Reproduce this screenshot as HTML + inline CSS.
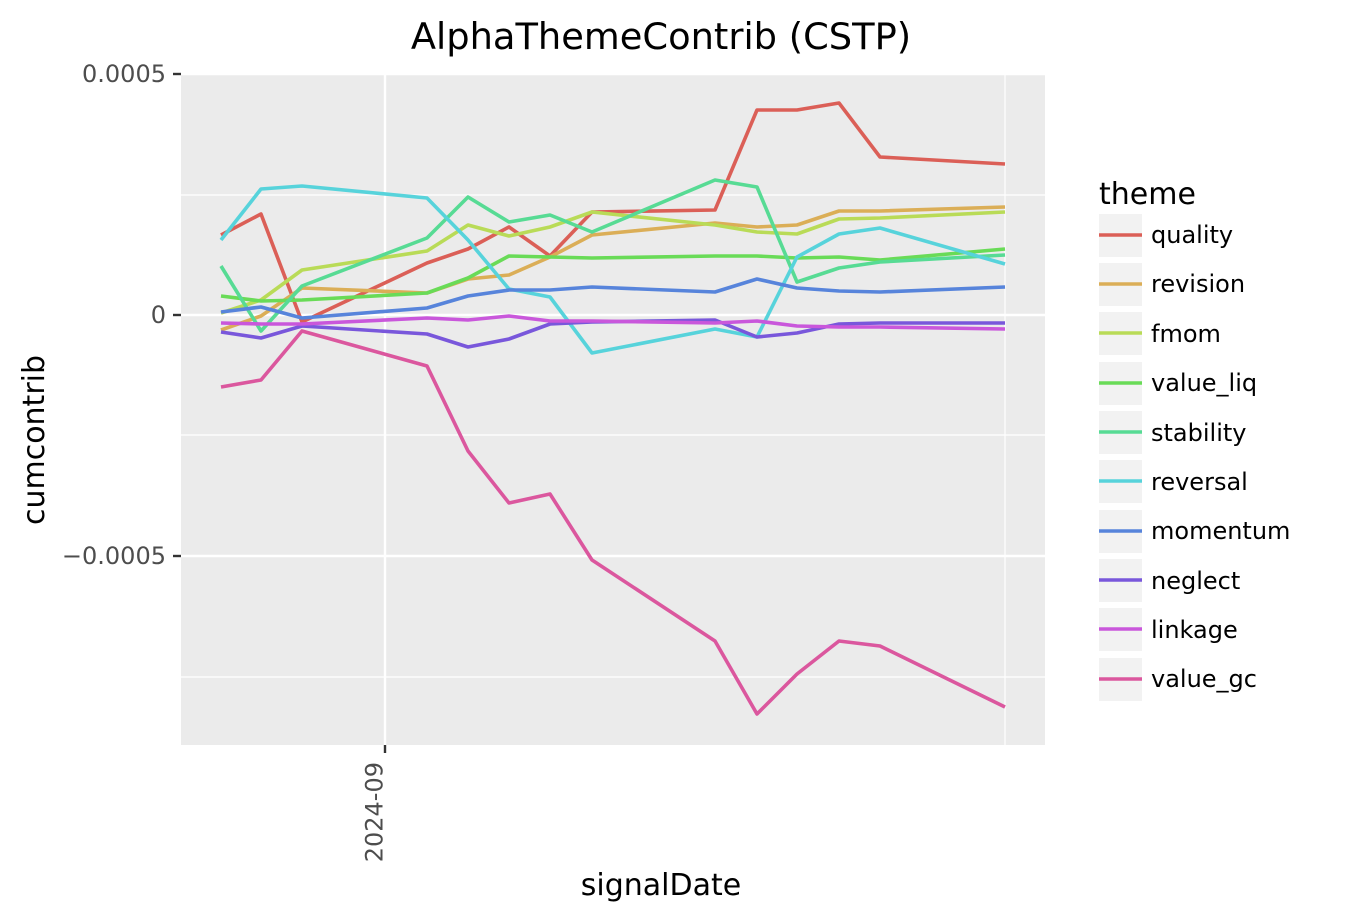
<!DOCTYPE html>
<html><head><meta charset="utf-8"><style>
body{margin:0;background:#fff;}
svg{display:block;font-family:"DejaVu Sans","Liberation Sans",sans-serif;}
</style></head><body>
<svg width="1347" height="922" viewBox="0 0 1347 922" xmlns="http://www.w3.org/2000/svg">
<rect width="1347" height="922" fill="#fff"/>
<text x="661" y="49" font-size="36.8" text-anchor="middle" fill="#000">AlphaThemeContrib (CSTP)</text>
<rect x="181" y="74" width="864" height="671" fill="#ebebeb"/>
<g stroke="#fff">
<line x1="181" x2="1045" y1="195" y2="195" stroke-width="1.2"/>
<line x1="181" x2="1045" y1="435" y2="435" stroke-width="1.2"/>
<line x1="181" x2="1045" y1="677" y2="677" stroke-width="1.2"/>
<line x1="181" x2="1045" y1="74" y2="74" stroke-width="2.4"/>
<line x1="181" x2="1045" y1="315" y2="315" stroke-width="2.4"/>
<line x1="181" x2="1045" y1="556" y2="556" stroke-width="2.4"/>
<line x1="385" x2="385" y1="74" y2="745" stroke-width="2.4"/>
<line x1="1005" x2="1005" y1="74" y2="745" stroke-width="1.2"/>
</g>
<g fill="none" stroke-width="3.6" stroke-linejoin="round">
<polyline stroke="#db5f57" points="221,235 261,214 302,322 427,263 468,249 509,227 550,256 592,212 715,210 757,110 797,110 839,103 880,157 1005,164"/>
<polyline stroke="#dbae57" points="221,330 261,316 302,288 427,293 468,279 509,275 550,257 592,235 715,223 757,227 797,225 839,211 880,211 1005,207"/>
<polyline stroke="#b9db57" points="221,313 261,300 302,270 427,251 468,225 509,236 550,227 592,212 715,225 757,232 797,234 839,219 880,218 1005,212"/>
<polyline stroke="#69db57" points="221,296 261,301 302,300 427,293 468,278 509,256 550,257 592,258 715,256 757,256 797,258 839,257 880,260 1005,249"/>
<polyline stroke="#57db94" points="221,266 261,331 302,286 427,238 468,197 509,222 550,215 592,232 715,180 757,187 797,282 839,268 880,262 1005,255"/>
<polyline stroke="#57d3db" points="221,240 261,189 302,186 427,198 468,240 509,289 550,297 592,353 715,329 757,337 797,257 839,234 880,228 1005,264"/>
<polyline stroke="#5784db" points="221,312 261,307 302,318 427,308 468,296 509,290 550,290 592,287 715,292 757,279 797,288 839,291 880,292 1005,287"/>
<polyline stroke="#7957db" points="221,332 261,338 302,326 427,334 468,347 509,339 550,324 592,322 715,320 757,337 797,333 839,324 880,323 1005,323"/>
<polyline stroke="#c957db" points="221,323 261,324 302,324 427,318 468,320 509,316 550,321 592,321 715,323 757,321 797,326 839,327 880,327 1005,329"/>
<polyline stroke="#db579e" points="221,387 261,380 302,331 427,366 468,451 509,503 550,494 592,560 715,641 757,714 797,674 839,641 880,646 1005,707"/>
</g>
<g stroke="#333" stroke-width="2.4">
<line x1="173" x2="181" y1="74" y2="74"/><line x1="173" x2="181" y1="315" y2="315"/><line x1="173" x2="181" y1="556" y2="556"/>
<line x1="385" x2="385" y1="745" y2="753"/>
</g>
<g font-size="24" fill="#4d4d4d" text-anchor="end">
<text x="166" y="82">0.0005</text>
<text x="166" y="323">0</text>
<text x="166" y="564">−0.0005</text>
<text transform="translate(374,762) rotate(-90)" x="0" y="0" dy="0.35em">2024-09</text>
</g>
<text x="661" y="895" font-size="30" text-anchor="middle">signalDate</text>
<text transform="translate(44,440) rotate(-90)" font-size="30" text-anchor="middle">cumcontrib</text>
<text x="1099" y="204" font-size="30">theme</text>
<g font-size="24">
<rect x="1099" y="214" width="43" height="43" fill="#f2f2f2"/><line x1="1099" x2="1142" y1="235" y2="235" stroke="#db5f57" stroke-width="3.6"/><text x="1151" y="243">quality</text>
<rect x="1099" y="263" width="43" height="43" fill="#f2f2f2"/><line x1="1099" x2="1142" y1="284" y2="284" stroke="#dbae57" stroke-width="3.6"/><text x="1151" y="292">revision</text>
<rect x="1099" y="312" width="43" height="43" fill="#f2f2f2"/><line x1="1099" x2="1142" y1="333" y2="333" stroke="#b9db57" stroke-width="3.6"/><text x="1151" y="342">fmom</text>
<rect x="1099" y="362" width="43" height="43" fill="#f2f2f2"/><line x1="1099" x2="1142" y1="383" y2="383" stroke="#69db57" stroke-width="3.6"/><text x="1151" y="391">value_liq</text>
<rect x="1099" y="411" width="43" height="43" fill="#f2f2f2"/><line x1="1099" x2="1142" y1="432" y2="432" stroke="#57db94" stroke-width="3.6"/><text x="1151" y="441">stability</text>
<rect x="1099" y="460" width="43" height="43" fill="#f2f2f2"/><line x1="1099" x2="1142" y1="481" y2="481" stroke="#57d3db" stroke-width="3.6"/><text x="1151" y="490">reversal</text>
<rect x="1099" y="510" width="43" height="43" fill="#f2f2f2"/><line x1="1099" x2="1142" y1="531" y2="531" stroke="#5784db" stroke-width="3.6"/><text x="1151" y="539">momentum</text>
<rect x="1099" y="559" width="43" height="43" fill="#f2f2f2"/><line x1="1099" x2="1142" y1="580" y2="580" stroke="#7957db" stroke-width="3.6"/><text x="1151" y="589">neglect</text>
<rect x="1099" y="608" width="43" height="43" fill="#f2f2f2"/><line x1="1099" x2="1142" y1="629" y2="629" stroke="#c957db" stroke-width="3.6"/><text x="1151" y="638">linkage</text>
<rect x="1099" y="658" width="43" height="43" fill="#f2f2f2"/><line x1="1099" x2="1142" y1="679" y2="679" stroke="#db579e" stroke-width="3.6"/><text x="1151" y="687">value_gc</text>
</g>
</svg>
</body></html>
